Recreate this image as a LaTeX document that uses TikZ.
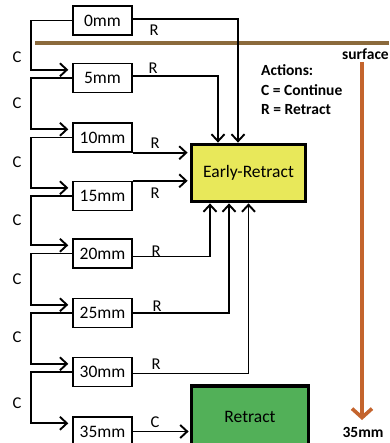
\documentclass[tikz,border=0pt]{standalone}
\usepackage{fontspec}
\setmainfont{Carlito}
\usetikzlibrary{arrows.meta}
\definecolor{surfbrown}{RGB}{139,106,60}
\definecolor{depthorange}{RGB}{196,100,45}
\definecolor{eryellow}{RGB}{232,232,90}
\definecolor{rtgreen}{RGB}{82,176,88}
\tikzset{
  mmbox/.style={draw, line width=1.4pt, minimum width=59pt, minimum height=29pt, inner sep=0pt, font=\fontsize{17.5}{20}\selectfont},
  bigbox/.style={draw, line width=3.8pt, inner sep=0pt, font=\fontsize{17.5}{20}\selectfont},
  conn/.style={line width=1.9pt, -{Straight Barb[length=7pt,width=13pt,line width=1.9pt]}},
  lbl/.style={font=\fontsize{16.5}{18}\selectfont, inner sep=0pt},
  boldlbl/.style={font=\bfseries\fontsize{15.5}{19.5}\selectfont, inner sep=0pt}
}
\begin{document}
\begin{tikzpicture}[x=1pt,y=-1pt]
\useasboundingbox (0,0) rectangle (389,443);
% surface line and depth arrow
\draw[surfbrown, line width=3.3pt] (35,43) -- (389,43);
\node[boldlbl, anchor=east] (surf) at (389,54) {surface};
\coordinate (dtop) at (362,62);
\coordinate (dbot) at (362,420);
\draw[depthorange, line width=3.6pt, -{Straight Barb[length=9pt,width=20pt,line width=3.6pt]}] (dtop) -- (dbot);
\node[boldlbl] (depth) at (363,432) {35mm};
% actions legend
\node[boldlbl, anchor=west, align=left] (actions) at (261,90) {Actions:\\C = Continue\\R = Retract};
% depth boxes
\node[mmbox] (b0)  at (102.5,20.5) {0mm};
\node[mmbox] (b5)  at (102.5,78) {5mm};
\node[mmbox] (b10) at (102.5,137.5) {10mm};
\node[mmbox] (b15) at (102.5,196) {15mm};
\node[mmbox] (b20) at (102.5,253.5) {20mm};
\node[mmbox] (b25) at (102.5,313) {25mm};
\node[mmbox] (b30) at (102.5,372) {30mm};
\node[mmbox] (b35) at (102.5,431.5) {35mm};
% outcome boxes
\node[bigbox, fill=eryellow, minimum width=114pt, minimum height=57pt] (er) at (248.5,173) {Early-Retract};
\node[bigbox, fill=rtgreen, minimum width=117pt, minimum height=62pt] (rt) at (250,417) {Retract};
% continue chain
\foreach \a/\b in {b0/b5, b5/b10, b10/b15, b15/b20, b20/b25, b25/b30, b30/b35}{
  \draw[conn] (\a.west) -- ++(-41,0) |- ([shift={(-4pt,-7pt)}]\b.north west);
}
\node[lbl] (c1) at (17,57) {C};
\node[lbl] (c2) at (17,103) {C};
\node[lbl] (c3) at (17,162) {C};
\node[lbl] (c4) at (17,220) {C};
\node[lbl] (c5) at (17,279) {C};
\node[lbl] (c6) at (17,337) {C};
\node[lbl] (c7) at (17,403) {C};
% retract connectors
\draw[conn] ([yshift=1.5pt]b0.east) -| ([xshift=-10.5pt]er.north);
\draw[conn] ([yshift=2pt]b5.east) -| ([xshift=-30.5pt]er.north);
\draw[conn] (b10.south east) -- ([xshift=-2pt]er.west |- b10.south east);
\draw[conn] (b15.north east) -- ([xshift=-2pt]er.west |- b15.north east);
\draw[conn] ([yshift=-3pt]b20.east) -| ([xshift=-38.5pt]er.south);
\draw[conn] (b25.east) -| ([xshift=-19.5pt]er.south);
\draw[conn] ([yshift=-1.5pt]b30.east) -| ([xshift=0pt]er.south);
\draw[conn] (b35.east) -- ([xshift=-1pt]rt.west |- b35.east);
\node[lbl] (r0) at (154,30) {R};
\node[lbl] (r5) at (153,68) {R};
\node[lbl] (r10) at (155,143) {R};
\node[lbl] (r15) at (155,193) {R};
\node[lbl] (r20) at (156,251) {R};
\node[lbl] (r25) at (157,306) {R};
\node[lbl] (r30) at (156,364) {R};
\node[lbl] (c35) at (155,422) {C};
\end{tikzpicture}
\end{document}
